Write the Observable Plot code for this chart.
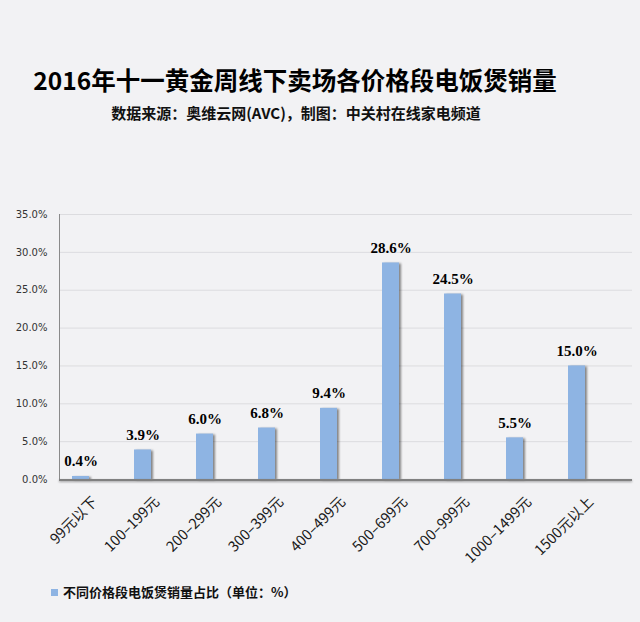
<!DOCTYPE html>
<html>
<head>
<meta charset="utf-8">
<script src="https://cdn.jsdelivr.net/npm/d3@7"></script>
<script src="https://cdn.jsdelivr.net/npm/@observablehq/plot@0.6"></script>
<style>
  html, body { margin: 0; padding: 0; background: #f2f2f4; }
  #wrap { position: relative; width: 640px; height: 622px; overflow: hidden; background: #f2f2f4; }
  .t { position: absolute; white-space: nowrap; color: #000; font-family: "Noto Sans CJK SC", sans-serif; font-weight: bold; }
  #title { top: 66px; left: 0; width: 590px; text-align: center; font-size: 24.5px; line-height: 28px; }
  #subtitle { top: 104px; left: 0; width: 592px; text-align: center; font-size: 15px; line-height: 18px; color: #111; }
  #legend { top: 583px; left: 51px; font-size: 13px; line-height: 18px; color: #111; display: flex; align-items: center; }
  #legend .sw { width: 7px; height: 7px; background: #8eb4e3; margin-right: 5px; }
  #chart { position: absolute; top: 0; left: 0; }
  #chart g[aria-label="bar"] rect { filter: drop-shadow(2.5px 1px 1.2px rgba(0,0,0,0.45)); }
</style>
</head>
<body>
<div id="wrap">
  <div id="chart"></div>
  <div class="t" id="title">2016年十一黄金周线下卖场各价格段电饭煲销量</div>
  <div class="t" id="subtitle">数据来源：奥维云网(AVC)，制图：中关村在线家电频道</div>
  <div class="t" id="legend"><span class="sw"></span><span>不同价格段电饭煲销量占比（单位：%）</span></div>
</div>
<script>
const categories = ["99元以下", "100–199元", "200–299元", "300–399元", "400–499元", "500–699元", "700–999元", "1000–1499元", "1500元以上"];
const values = [0.4, 3.9, 6.0, 6.8, 9.4, 28.6, 24.5, 5.5, 15.0];
const yTicks = [0, 5, 10, 15, 20, 25, 30, 35];

const data = categories.map((c, i) => ({cat: c, value: values[i]}));

const axisLines = (index, scales, vals, dims) => {
  const svg = d3.create("svg:g");
  const x0 = dims.marginLeft, x1 = dims.width - dims.marginRight;
  const yT = dims.marginTop, yB = dims.height - dims.marginBottom;
  svg.append("line").attr("x1", x0 + 0.5).attr("x2", x0 + 0.5).attr("y1", yT).attr("y2", yB)
    .attr("stroke", "#8a8a8a").attr("stroke-width", 1);
  svg.append("line").attr("x1", x0).attr("x2", x1).attr("y1", yB + 1).attr("y2", yB + 1)
    .attr("stroke", "#808080").attr("stroke-width", 2)
    .style("filter", "drop-shadow(0px 1.5px 1px rgba(0,0,0,0.35))");
  return svg.node();
};

const chart = Plot.plot({
  width: 640,
  height: 622,
  marginTop: 214,
  marginBottom: 143,
  marginLeft: 59,
  marginRight: 8,
  style: {background: "transparent", color: "#333", overflow: "visible"},
  x: {domain: categories, range: [47.35, 609.85], paddingInner: 0.728, paddingOuter: 0.364, axis: null},
  y: {domain: [0, 35], axis: null},
  marks: [
    Plot.ruleY(yTicks, {stroke: "#dcdcdf", strokeWidth: 1}),
    Plot.axisY(yTicks, {tickSize: 0, tickPadding: 12, fontSize: 10, fontFamily: "DejaVu Sans", tickFormat: d => d.toFixed(1) + "%", label: null}),
    Plot.barY(data, {x: "cat", y: "value", fill: "#8eb4e3"}),
    axisLines,
    Plot.text(data, {x: "cat", y: "value", text: d => d.value.toFixed(1) + "%", dy: -15, fontFamily: "Liberation Serif", fontWeight: "bold", fontSize: 15, fill: "#000"}),
    Plot.text(data, {x: "cat", frameAnchor: "bottom", text: "cat", rotate: -45, textAnchor: "end", lineAnchor: "middle", dx: 14, dy: 20, fontSize: 14.5, fontFamily: "Noto Sans CJK SC", fill: "#1a1a1a"})
  ]
});
document.getElementById("chart").appendChild(chart);
</script>
</body>
</html>
